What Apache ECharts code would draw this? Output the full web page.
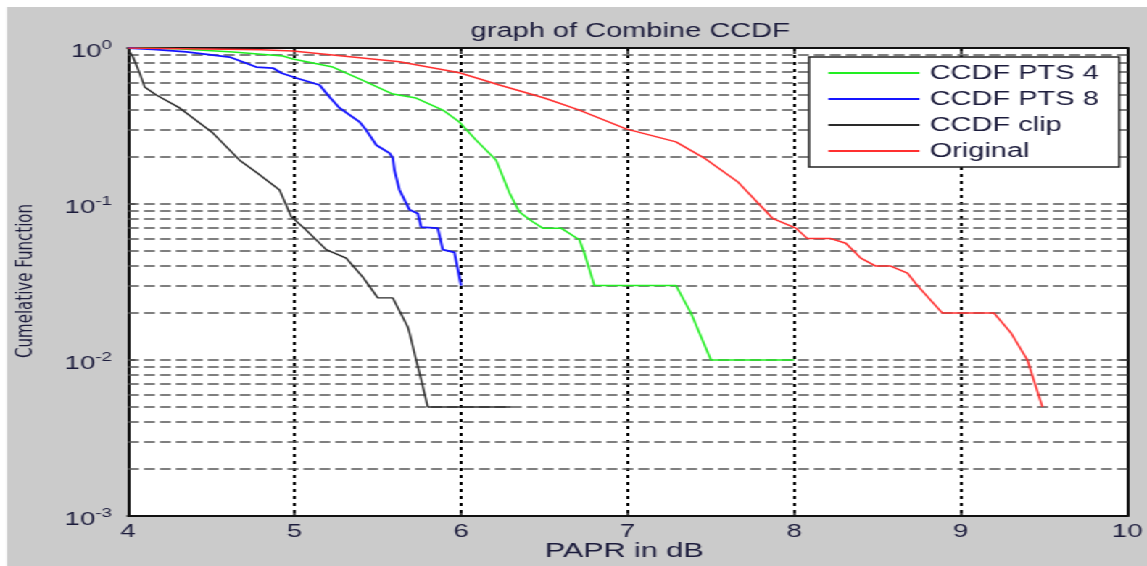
<!DOCTYPE html>
<html>
<head>
<meta charset="utf-8">
<script src="https://cdn.jsdelivr.net/npm/echarts@6/dist/echarts.min.js"></script>
<style>
  html, body { margin: 0; padding: 0; background: #fff; overflow: hidden; }
  /* the source figure is a stretched matlab plot: draw narrow, stretch sideways */
  #chart { width: 791px; height: 566px; transform: scaleX(1.45); transform-origin: 0 0; }
</style>
</head>
<body>
<div id="chart"></div>
<script>
// CCDF curves (x = PAPR in dB, y = probability)
const pts4X = [4, 4.3, 4.63, 4.93, 4.99, 5.23, 5.43, 5.59, 5.73, 5.89, 5.99, 6.09, 6.21, 6.29, 6.35, 6.43, 6.49, 6.6, 6.71, 6.74, 6.8, 7.29, 7.38, 7.5, 8];
const pts4Y = [1, 0.99, 0.943, 0.889, 0.85, 0.755, 0.606, 0.507, 0.478, 0.4, 0.335, 0.257, 0.191, 0.118, 0.089, 0.077, 0.07, 0.07, 0.059, 0.0485, 0.03, 0.03, 0.02, 0.01, 0.01];

const pts8X = [4, 4.15, 4.35, 4.61, 4.77, 4.87, 4.92, 5.01, 5.15, 5.21, 5.27, 5.39, 5.43, 5.49, 5.57, 5.59, 5.6, 5.63, 5.69, 5.74, 5.76, 5.86, 5.89, 5.96, 6];
const pts8Y = [1, 0.98, 0.943, 0.875, 0.755, 0.744, 0.691, 0.642, 0.579, 0.485, 0.413, 0.336, 0.298, 0.239, 0.212, 0.197, 0.165, 0.123, 0.092, 0.087, 0.071, 0.07, 0.051, 0.049, 0.03];

const clipX = [4, 4.01, 4.03, 4.07, 4.1, 4.17, 4.31, 4.51, 4.67, 4.77, 4.91, 4.98, 5.07, 5.19, 5.31, 5.41, 5.5, 5.59, 5.68, 5.69, 5.73, 5.76, 5.8, 6.3];
const clipY = [1, 0.943, 0.875, 0.69, 0.563, 0.5, 0.413, 0.285, 0.191, 0.16, 0.123, 0.083, 0.068, 0.051, 0.045, 0.034, 0.025, 0.025, 0.0163, 0.015, 0.01, 0.0075, 0.005, 0.005];

const origX = [4, 4.8, 4.99, 5.63, 5.99, 6.23, 6.5, 6.71, 6.99, 7.29, 7.46, 7.66, 7.87, 8.01, 8.08, 8.22, 8.31, 8.4, 8.49, 8.58, 8.68, 8.74, 8.89, 9.2, 9.3, 9.4, 9.49];
const origY = [1, 0.975, 0.957, 0.817, 0.694, 0.579, 0.478, 0.4, 0.303, 0.25, 0.197, 0.139, 0.081, 0.07, 0.06, 0.06, 0.056, 0.045, 0.04, 0.04, 0.036, 0.03, 0.02, 0.02, 0.015, 0.01, 0.005];

// dashed horizontal grid levels (minor + decades inside the range)
const gridLevels = [
  0.002, 0.003, 0.004, 0.005, 0.006, 0.007, 0.008, 0.009,
  0.01, 0.02, 0.03, 0.04, 0.05, 0.06, 0.07, 0.08, 0.09,
  0.1, 0.2, 0.3, 0.4, 0.5, 0.6, 0.7, 0.8, 0.9
];

const seriesNames = ['CCDF PTS 4', 'CCDF PTS 8', 'CCDF clip', 'Original'];

function zip(xs, ys) {
  return xs.map((x, i) => [x, ys[i]]);
}

const S = 1.45; // horizontal stretch applied by css
const px = v => v / S; // page x -> chart x

const txt = '#1c1c3c';
const font = 'Liberation Sans, Arial, sans-serif';

let myChart = echarts.init(document.getElementById('chart'));

let curve = function (name, xs, ys, color, w) {
  return {
    name: name, type: 'line', symbol: 'none', showSymbol: false, z: 3,
    lineStyle: { color: color, width: w },
    itemStyle: { color: color },
    data: zip(xs, ys)
  };
};

let option = {
  backgroundColor: '#fff',
  animation: false,
  graphic: [
    {
      type: 'rect', z: -10, silent: true,
      shape: { x: px(7), y: 7, width: px(1140), height: 559 },
      style: { fill: '#cbcbcb' }
    },
    {
      type: 'text', left: px(545), top: 541,
      style: { text: 'PAPR in dB', font: '21px ' + font, fill: txt }
    },
    {
      type: 'text', left: px(16), top: 204, rotation: Math.PI / 2,
      style: {
        text: 'Cumelative Function',
        font: '15px "DejaVu Sans", sans-serif',
        fill: txt
      }
    }
  ],
  title: {
    text: 'graph of Combine CCDF',
    left: px(623), top: 16, textAlign: 'center',
    textStyle: { color: txt, fontSize: 20, fontWeight: 'normal', fontFamily: font }
  },
  legend: {
    data: seriesNames,
    orient: 'vertical',
    left: px(809), top: 57,
    padding: [6, 14, 6, 12.4],
    itemWidth: 62.8, itemHeight: 19, itemGap: 6,
    itemStyle: { opacity: 0 },
    backgroundColor: '#fff',
    borderColor: '#222', borderWidth: 1.5,
    textStyle: { color: txt, fontSize: 20, fontFamily: font, padding: [0, 0, 0, 2] }
  },
  grid: {
    left: px(128), right: px(17), top: 48, bottom: 50,
    show: true, backgroundColor: '#fff', borderWidth: 0
  },
  xAxis: [{
    type: 'value', min: 4, max: 10, interval: 1,
    axisLine: { lineStyle: { color: '#111', width: 2 } },
    axisTick: { inside: true, length: 6, lineStyle: { color: '#111', width: 1.5 } },
    axisLabel: { color: txt, fontSize: 19, fontFamily: font, margin: 6 },
    splitLine: { show: true, lineStyle: { color: '#000', type: [3, 4], width: 2 } }
  }, {
    type: 'value', min: 4, max: 10, interval: 1, position: 'top',
    axisLine: { lineStyle: { color: '#111', width: 2 } },
    axisTick: { inside: true, length: 6, lineStyle: { color: '#111', width: 1.5 } },
    axisLabel: { show: false },
    splitLine: { show: false }
  }],
  yAxis: [{
    type: 'log', logBase: 10, min: 0.001, max: 1,
    axisLine: { show: true, lineStyle: { color: '#111', width: 2 } },
    axisTick: { inside: true, length: 5, lineStyle: { color: '#111', width: 1.5 } },
    axisLabel: {
      margin: 11,
      formatter: function (v) {
        return '{b|10}{s|' + Math.round(Math.log10(v)) + '}';
      },
      rich: {
        b: { fontSize: 19, color: txt, fontFamily: font, padding: [8, 0, 0, 0] },
        s: { fontSize: 13, color: txt, fontFamily: font, padding: [0, 0, 6, 0] }
      }
    },
    splitLine: { show: false }
  }, {
    type: 'log', logBase: 10, min: 0.001, max: 1, position: 'right',
    axisLine: { show: true, lineStyle: { color: '#111', width: 2 } },
    axisTick: { inside: true, length: 5, lineStyle: { color: '#111', width: 1.5 } },
    axisLabel: { show: false },
    splitLine: { show: false }
  }],
  series: [{
    name: 'grid',
    type: 'lines',
    coordinateSystem: 'cartesian2d',
    silent: true,
    z: 1,
    lineStyle: { color: '#555', type: [7.5, 3.5], width: 1.5, opacity: 1 },
    data: gridLevels.map(v => ({ coords: [[4, v], [10, v]] }))
  },
  curve(seriesNames[0], pts4X, pts4Y, '#22ee22', 1.5),
  curve(seriesNames[1], pts8X, pts8Y, '#1515ff', 1.8),
  curve(seriesNames[2], clipX, clipY, '#2a2a2a', 1.4),
  curve(seriesNames[3], origX, origY, '#ff3030', 1.5)]
};

myChart.setOption(option, true);
</script>
</body>
</html>
